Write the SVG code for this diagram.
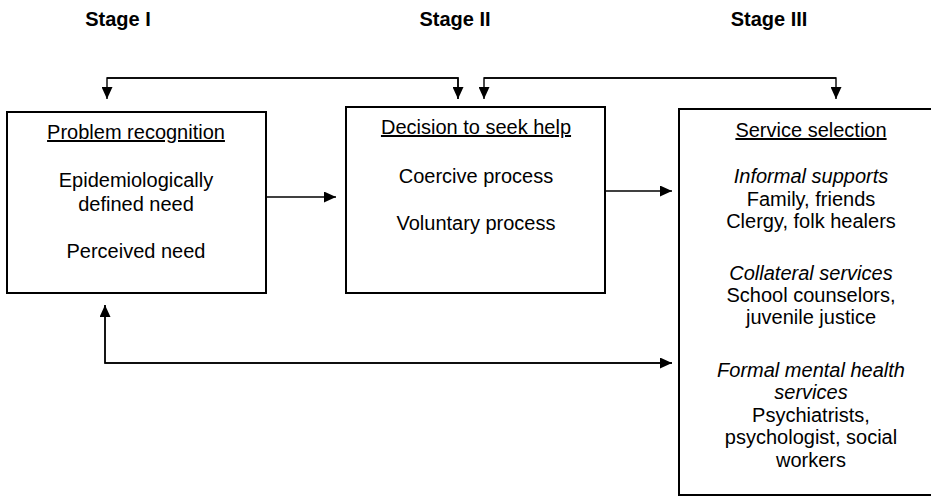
<svg xmlns="http://www.w3.org/2000/svg" width="931" height="497" viewBox="0 0 931 497">
<defs>
<style>
text{font-family:"Liberation Sans",Arial,sans-serif;font-size:20px;fill:#000;text-anchor:middle}
.stage{font-weight:bold}
.u{text-decoration:underline}
.i{font-style:italic}
.box{fill:#fff;stroke:#000;stroke-width:2}
.conn{fill:none;stroke:#000;stroke-width:1.4}
</style>
<marker id="ah" markerWidth="12" markerHeight="11" refX="12" refY="5.5" orient="auto" markerUnits="userSpaceOnUse">
<path d="M0,0 L12,5.5 L0,11 Z" fill="#000"/>
</marker>
</defs>
<rect width="931" height="497" fill="#fff"/>
<g id="stages">
<text class="stage" x="118" y="26">Stage I</text>
<text class="stage" x="455" y="26">Stage II</text>
<text class="stage" x="769" y="26">Stage III</text>
</g>
<g id="connectors">
<path class="conn" d="M458,99 V78 H107 V99" marker-end="url(#ah)"/>
<path class="conn" d="M107,78 H458 V99" marker-end="url(#ah)"/>
<path class="conn" d="M836,78 H484 V99" marker-end="url(#ah)"/>
<path class="conn" d="M484,78 H836 V99" marker-end="url(#ah)"/>
<path class="conn" d="M266,197 H336" marker-end="url(#ah)"/>
<path class="conn" d="M605,191 H672" marker-end="url(#ah)"/>
<path class="conn" d="M672,363 H105 V305" marker-end="url(#ah)"/>
<path class="conn" d="M105,305 V363 H672" marker-end="url(#ah)"/>
</g>
<g id="problem-recognition">
<rect class="box" x="7" y="112" width="259" height="181"/>
<text class="u" x="136" y="139">Problem recognition</text>
<text x="136" y="187">Epidemiologically</text>
<text x="136" y="211">defined need</text>
<text x="136" y="258">Perceived need</text>
</g>
<g id="decision">
<rect class="box" x="346" y="107" width="259" height="186"/>
<text class="u" x="476" y="134">Decision to seek help</text>
<text x="476" y="183">Coercive process</text>
<text x="476" y="230">Voluntary process</text>
</g>
<g id="service-selection">
<rect class="box" x="679" y="109" width="264" height="386"/>
<text class="u" x="811" y="137">Service selection</text>
<text class="i" x="811" y="183">Informal supports</text>
<text x="811" y="206">Family, friends</text>
<text x="811" y="228">Clergy, folk healers</text>
<text class="i" x="811" y="280">Collateral services</text>
<text x="811" y="302">School counselors,</text>
<text x="811" y="324">juvenile justice</text>
<text class="i" x="811" y="377">Formal mental health</text>
<text class="i" x="811" y="399">services</text>
<text x="811" y="422">Psychiatrists,</text>
<text x="811" y="444">psychologist, social</text>
<text x="811" y="467">workers</text>
</g>
</svg>
